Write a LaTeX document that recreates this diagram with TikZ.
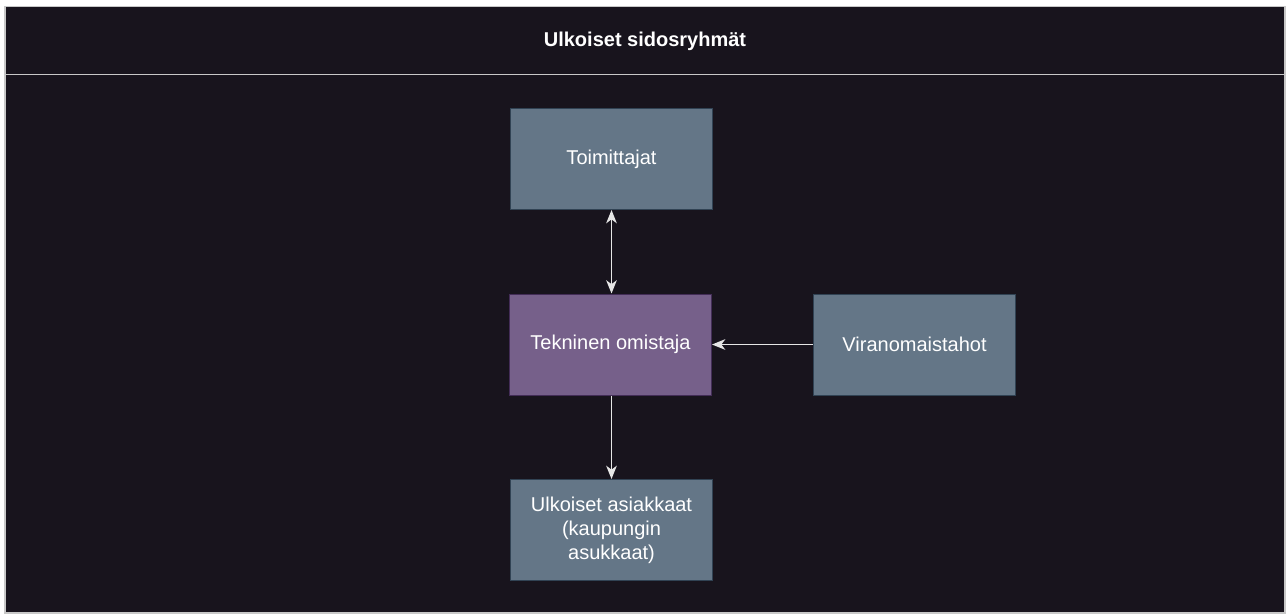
\documentclass[tikz,border=0pt]{standalone}
\usepackage{fontspec}
\setmainfont{Liberation Sans}
\usetikzlibrary{arrows.meta}
\definecolor{bgdark}{HTML}{18141D}
\definecolor{boxfill}{HTML}{647687}
\definecolor{boxline}{HTML}{314354}
\definecolor{ownfill}{HTML}{76608A}
\definecolor{ownline}{HTML}{432D57}
\definecolor{frameline}{HTML}{C8C8C8}
\definecolor{arrowline}{HTML}{E6E6E6}
\begin{document}
\begin{tikzpicture}[x=0.75pt,y=-0.75pt,
    group/.style = {draw = boxline, fill = boxfill, line width = 0.75pt,
        minimum width = 151.5pt, minimum height = 75.75pt,
        text = white, font = \fontsize{15}{18}\selectfont,
        align = center, inner sep = 0pt},
    owner/.style = {group, draw = ownline, fill = ownfill},
    tip/.style = {Stealth[length=10pt,width=8pt,inset=3pt]},
    link/.style = {draw = arrowline, line width = 0.9pt, -{Stealth[length=10pt,width=8pt,inset=3pt]}}
]
            \useasboundingbox (0,0) rectangle (1287,614);
            \fill[white] (0,0) rectangle (1287,614);
            \draw[fill = bgdark, draw = frameline, line width = 0.9pt] (5,6.5) rectangle (1285,613);
            \draw[frameline, line width = 0.9pt] (5,74.5) -- (1285,74.5);
            \node[text = white, font = \bfseries\fontsize{15}{18}\selectfont] (title) at (645,41) {Ulkoiset sidosryhmät};
            \node[group] (toimittajat) at (611.5,159) {Toimittajat};
            \node[owner] (omistaja) at (610.5,344.5) {Tekninen omistaja};
            \node[group] (viranomaiset) at (914.5,344.5) {Viranomaistahot};
            \node[group] (asiakkaat) at (611.5,530) {Ulkoiset asiakkaat\\(kaupungin\\asukkaat)};
            \draw[link, {Stealth[length=10pt,width=8pt,inset=3pt]}-{Stealth[length=10pt,width=8pt,inset=3pt]}] (toimittajat) -- (toimittajat |- omistaja.north);
            \draw[link] (viranomaiset) -- (omistaja);
            \draw[link] (omistaja.south -| asiakkaat) -- (asiakkaat);
        \end{tikzpicture}
\end{document}
